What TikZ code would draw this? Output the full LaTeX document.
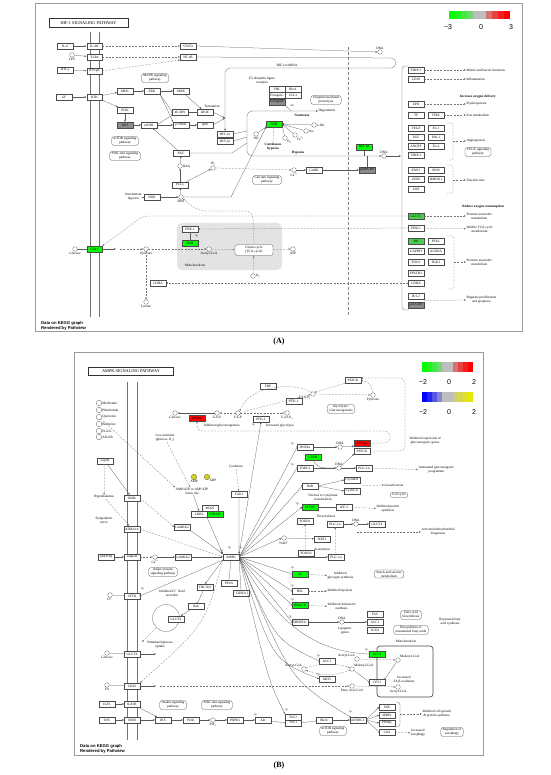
\documentclass[tikz,border=0pt]{standalone}
\usepackage{fontspec}
\setmainfont{Liberation Serif}
\setsansfont{Liberation Sans}
\usetikzlibrary{arrows.meta,calc}
\definecolor{kgreen}{HTML}{00FF00}
\definecolor{kmid}{HTML}{4CCF4C}
\definecolor{kred}{HTML}{FF0000}
\definecolor{kgray}{HTML}{BEBEBE}
\definecolor{kdark}{HTML}{8C8C8C}
\definecolor{kyel}{HTML}{E8E800}
\definecolor{kblue}{HTML}{0000FF}
\definecolor{kfrm}{HTML}{9A9A9A}
\newcommand\kf{\fontsize{3.4}{3.8}\selectfont}
\newcommand\kfb{\fontsize{3.4}{3.8}\selectfont\bfseries}

\begin{document}
\begin{tikzpicture}[x=1pt, y=-1pt,
  gene/.style={draw=black!70, line width=0.25pt, fill=white, font=\kf, inner sep=0pt, minimum width=15.5pt, minimum height=5.8pt},
  gdown/.style={gene, fill=kgreen},
  gmid/.style={gene, fill=kmid},
  gred/.style={gene, fill=kred},
  gdark/.style={gene, fill=kdark},
  cpd/.style={circle, draw=black!70, line width=0.25pt, fill=white, inner sep=0pt, minimum size=4.6pt},
  cpdy/.style={cpd, fill=kyel!80!gray, minimum size=5.5pt},
  pway/.style={draw=black!70, line width=0.25pt, rounded corners=2.5pt, fill=white, font=\kf, align=center, inner xsep=2pt, inner ysep=1pt},
  lbl/.style={font=\kf, align=center, inner sep=0.3pt},
  blbl/.style={font=\kfb, align=center, inner sep=0.3pt},
  ln/.style={draw=black!65, line width=0.25pt},
  act/.style={ln, -{Latex[length=2pt,width=1.6pt]}},
  bact/.style={ln, {Latex[length=2pt,width=1.6pt]}-{Latex[length=2pt,width=1.6pt]}},
  dact/.style={act, draw=black!55, dash pattern=on 2pt off 1.3pt},
  dln/.style={ln, draw=black!55, dash pattern=on 2pt off 1.3pt},
  inh/.style={ln, -{Bar[width=2.8pt]}},
  dinh/.style={inh, draw=black!55, dash pattern=on 2pt off 1.3pt},
  memb/.style={draw=black!55, line width=0.6pt},
  frm/.style={draw=kfrm, line width=0.8pt},
  tbox/.style={draw=black!80, line width=0.5pt, fill=white, font=\fontsize{4.3}{5}\selectfont, inner sep=0pt},
  keylbl/.style={font=\fontsize{7}{8}\selectfont\sffamily, inner sep=0pt},
  pnote/.style={font=\fontsize{3}{3.4}\selectfont, inner sep=0pt},
  credit/.style={font=\fontsize{4.2}{5}\selectfont\sffamily\bfseries, align=left, anchor=west, inner sep=0pt},
]
\fill[white] (0,0) rectangle (550,775);
\useasboundingbox (0,0) rectangle (550,775);

%% ================= (A) HIF-1 signalling =================
\draw[frm] (35,3) rectangle (522,331);
\node[tbox, minimum width=79pt, minimum height=8.5pt] (titA) at (88.5,23) {HIF-1 SIGNALING PATHWAY};
% colour key
\foreach \c [count=\i from 0] in {kgreen,kgreen!85!kgray,kgreen!65!kgray,kgreen!40!kgray,kgray,kgray,kred!40!kgray,kred!65!kgray,kred!85!kgray,kred}
  \fill[\c] ({449+\i*6.1},11) rectangle ({449+(\i+1)*6.1},19);
\node[keylbl] (kA1) at (448,27) {−3};
\node[keylbl] (kA2) at (481,27) {0};
\node[keylbl] (kA3) at (511,27) {3};
% membrane and nucleus
\draw[memb] (90,32) -- (90,317);
\draw[memb] (99,32) -- (99,317);
\draw[ln, draw=black!50, line width=0.5pt, dash pattern=on 3pt off 2pt] (348,47) -- (348,315);

% receptors
\node[gene] (il6) at (65,46) {IL-6};
\node[gene] (il6r) at (94.5,46) {IL-6R};
\node[cpd, label={[lbl]below:LPS}] (lps) at (72,55) {};
\node[gene] (tlr4) at (94.5,57) {TLR4};
\node[gene] (ifng) at (65,70) {IFN-γ};
\node[gene] (ifngr) at (94.5,71) {IFN-γR};
\node[gene] (gf) at (64,97) {GF};
\node[gene] (rtk) at (94.5,97) {RTK};
\node[gene] (stat3) at (188,46) {STAT3};
\node[gene] (nfkb) at (188,57) {NF-κB};
\draw[act] (il6) -- (il6r);
\draw[act] (lps) -- (tlr4);
\draw[act] (ifng) -- (ifngr);
\draw[act] (gf) -- (rtk);
\draw[dact] (il6r) -- (stat3);
\draw[dact] (tlr4) -- (nfkb);
\draw[dact] (ifngr.east) -- (nfkb.south west);

% growth factor cascade
\node[pway] (mapkp) at (155,78) {MAPK signaling\\pathway};
\node[gene] (mek) at (125,91) {MEK};
\node[gene] (erk) at (152,91) {ERK};
\node[gene] (mnk) at (181,91) {MNK};
\node[gene] (pi3k) at (125,110) {PI3K};
\node[gdark] (akt) at (125,125) {AKT};
\node[gene] (mtor) at (149,125) {mTOR};
\node[gene] (ebp) at (180,112) {4E-BP1};
\node[gene] (eif) at (205,112) {eIF4E};
\node[gene] (s6k) at (181,125) {p70S6K};
\node[gene] (rps6) at (205,125) {rpS6};
\node[lbl] (transl) at (212,106) {Translation};
\coordinate (trj) at (225,118);
\node[pway] (mtorp) at (125,141) {mTOR signaling\\pathway};
\node[pway] (pi3kp) at (125,156) {PI3K-Akt signaling\\pathway};
\draw[act] (rtk) -- (mek);
\draw[act] (rtk) -- (pi3k);
\draw[act] (mek) -- (erk);
\draw[act] (erk) -- (mnk);
\draw[act] (pi3k) -- (akt);
\draw[act] (akt) -- (mtor);
\draw[inh] (erk.south east) -- (ebp.west);
\draw[act] (erk.south east) -- (s6k.north west);
\draw[inh] (mtor.east) -- (ebp.south west);
\draw[act] (mtor) -- (s6k);
\draw[act] (mnk) -- (eif);
\draw[inh] (ebp) -- (eif);
\draw[act] (s6k) -- (rps6);
\draw[act] (eif.east) -- (trj);
\draw[act] (rps6.east) -- (trj);

% PKC, ROS
\node[gene] (pkc) at (181,153) {PKC};
\node[cpd, label={[lbl]right:DAG}] (dag) at (180,166) {};
\node[cpd, label={[lbl]above:IP\textsubscript{3}}] (ip3) at (213,168) {};
\node[gene] (plcg) at (180,185) {PLCγ};
\node[cpd, label={[lbl]below:ROS}] (ros) at (181,197) {};
\node[gene] (nox) at (152,197) {NOX};
\node[lbl, anchor=east] (ihyp) at (142,197) {Intermittent\\hypoxia};
\draw[act] (pkc) -- (mtor);
\draw[act] (dag) -- (pkc);
\draw[act] (plcg) -- (dag);
\draw[act] (plcg) -- (ip3);
\draw[act] (ros) -- (plcg);
\draw[act] (nox) -- (ros);
\draw[ln] (ihyp) -- (nox);

% HIF-1a mRNA loop
\node[gene] (hif1a) at (225,134) {HIF-1α};
\node[gene] (hif2a) at (225,141) {HIF-2α};
\node[cpd, label={[lbl]above:DNA}] (dnaA1) at (380,52) {};
\draw[act] (stat3.east) -- (dnaA1.west);
\draw[act, rounded corners=5pt] (nfkb.east) -- (396,58) -- (396,68) -- (225,68) -- (hif1a.north);
\node[lbl] (mrna) at (287,65) {HIF-1α mRNA};

% hypoxia / normoxia
\node[cpd, label={[lbl]above:DNA}] (dnaA2) at (384,156) {};
\node[lbl, anchor=west] (degr) at (318,111) {Degradation};
\draw[bact, rounded corners=5pt] (dnaA2.west) -- (247,156) -- (247,111) -- (degr.west);
\node[blbl] (normx) at (302,115.5) {Normoxia};
\node[blbl] (hypx) at (298,152.5) {Hypoxia};
\draw[ln] (hif1a.east) -- (247,131);
\draw[ln] (hif2a.east) -- (247,137);
\draw[ln] (pkc.east) -- (232,153) -- (247,143);
\node[gene] (vhl) at (277,89) {VHL};
\node[gene] (rbx) at (293,89) {Rbx1};
\node[gene] (eloc) at (277,95.5) {ElonginC};
\node[gene] (cul2) at (293,95.5) {CUL2};
\node[gdark] (elob) at (277,102) {ElonginB};
\node[lbl] (e3) at (262,81) {E3 ubiquitin ligase\\complex};
\node[pnote] (ubA) at (292,105) {ub};
\node[pway] (ubqp) at (326,100) {Ubiquitin mediated\\proteolysis};
\draw[ln] (elob.south east) -- (291,111);
\node[gdown] (phd) at (274,124) {PHD};
\node[cpd, label={[lbl]right:2-OG}] (og) at (314,125) {};
\node[cpd, label={[lbl]right:Asc}] (asc) at (306,131) {};
\node[cpd, label={[lbl]below right:Fe\textsuperscript{2+}}] (fe) at (295,135) {};
\node[cpd, label={[lbl]below right:O\textsubscript{2}}] (o2a) at (285,138) {};
\node[cpd, label={[lbl]below:NO}] (noA) at (256,134) {};
\foreach \c in {og,asc,fe,o2a} \draw[act] (\c) -- (phd.east);
\draw[inh] (noA) -- (phd.south west);
\node[blbl] (conth) at (273,147) {Continuous\\hypoxia};
\draw[dinh] (conth.north) -- (phd.south);
\draw[act] (ros.east) -- (231,197) -- (phd.south west);
\node[gdown] (hif1b) at (364,147) {HIF-1β};
\draw[ln] (hif1b.south) -- (364,156);
\node[gdark] (p300) at (367,170) {p300/CBP};
\draw[ln] (p300.north) -- (367,156);
\coordinate (rbr) at (401,156);
\draw[act] (dnaA2.east) -- (rbr);
\node[cpd, label={[lbl]below:Ca\textsuperscript{2+}}] (caA) at (294,170) {};
\node[gene] (camk) at (314,170) {CaMK};
\node[pway] (calp) at (267,180) {Calcium signaling\\pathway};
\draw[dact] (ip3.east) -- (caA.west);
\draw[act] (caA) -- (camk);
\draw[act] (camk) -- (p300);

% target genes
\draw[ln, rounded corners=3pt] (409,66) -- (402,66) -- (402,310) -- (409,310);
\foreach \n/\t/\x/\y in {timp1/TIMP-1/416/70, cd18/CD18/416/79, epo/EPO/416/104, tf/TF/416/115, tfrc/TFRC/436/115,
  vegf/VEGF/416/128, flt1/Flt-1/436/128, egf/EGF/416/137, pai1/PAI-1/436/137, angpt/ANGPT/416/146, tie2/Tie-2/436/146, timp1b/TIMP-1/416/155,
  edn1/EDN1/416/170, inos/iNOS/436/170, enos/eNOS/416/179, hmox/HMOX1/436/179, anp/ANP/416/189,
  pdk1r/PDK-1/416/228, pfkl/PFKL/436/241, gapdh/GAPDH/416/251, aldoa/ALDOA/436/251, eno1/ENO1/416/262, pgk1/PGK1/436/262,
  pfkfb/PFKFB3/416/273, ldhar/LDHA/416/283, bcl2/Bcl-2/416/296}
  \node[gene] (\n) at (\x,\y) {\t};
\node[gmid] (glut1r) at (416,216) {GLUT1};
\node[gmid] (hk) at (416,241) {HK};
\node[gdark] (p21) at (416,305) {p21/CIP1};
\node[lbl, anchor=west] (mbf) at (466,70) {Matrix and barrier functions};
\node[lbl, anchor=west] (infl) at (466,79) {Inflammation};
\node[blbl] (iod) at (478,97) {Increase oxygen delivery};
\node[lbl, anchor=west] (eryth) at (466,104) {Erythropoiesis};
\node[lbl, anchor=west] (ironm) at (466,115) {Iron metabolism};
\node[lbl, anchor=west] (angio) at (466,141) {Angiogenesis};
\node[pway] (vegfp) at (478,152) {VEGF signaling\\pathway};
\node[lbl, anchor=west] (vtone) at (466,180) {Vascular tone};
\node[blbl] (roc) at (483,207) {Reduce oxygen consumption};
\node[lbl, anchor=west] (pam1) at (466,216) {Promote anaerobic\\metabolism};
\node[lbl, anchor=west] (itca) at (466,229) {Inhibits TCA cycle\\metabolism};
\node[lbl, anchor=west] (pam2) at (466,262) {Promote anaerobic\\metabolism};
\node[lbl, anchor=west] (rpa) at (466,300) {Regulate proliferation\\and apoptosis};
\draw[dact] (timp1) -- (mbf);
\draw[dact] (cd18) -- (infl);
\draw[dact] (epo) -- (eryth);
\draw[dact] (tfrc) -- (ironm);
\draw[dact] (glut1r) -- (pam1);
\draw[dact] (pdk1r) -- (itca);
\draw[dact] ($(bcl2.east)!0.5!(p21.east)$) -- (rpa.west);
\draw[dln, rounded corners=2pt] (447,123) -- (453,123) -- (453,160) -- (447,160);
\draw[dact] (453,141) -- (angio.west);
\draw[dln, rounded corners=2pt] (447,165) -- (453,165) -- (453,193) -- (447,193);
\draw[dact] (453,180) -- (vtone.west);
\draw[dln, rounded corners=2pt] (447,236) -- (454,236) -- (454,289) -- (447,289);
\draw[dact] (454,262) -- (pam2.west);

% glucose metabolism
\fill[gray!22, rounded corners=5pt] (177,223) rectangle (282,270);
\node[lbl] (mitoA) at (195,265) {Mitochondrion};
\node[gene] (pdk1m) at (190,229) {PDK-1};
\node[gdown] (pdh) at (190,243) {PDH};
\draw[inh] (pdk1m) -- (pdh);
\node[pnote] (pA1) at (196,236) {+p};
\node[cpd, label={[lbl]below:Glucose}] (glcA) at (75,249) {};
\node[gdown] (glut1m) at (94.5,249) {Glut1};
\coordinate (gin) at (116,249);
\node[cpd, label={[lbl]below:Pyruvate}] (pyrA) at (146,249) {};
\node[cpd, label={[lbl]below:Acetyl-CoA}] (accA) at (209,249) {};
\node[pway, minimum width=38pt, minimum height=11pt] (tca) at (254,250) {Citrate cycle\\(TCA cycle)};
\node[cpd, label={[lbl]below:ATP}] (atp) at (293,249) {};
\node[cpd, label={[lbl]right:O\textsubscript{2}}] (o2b) at (253,276) {};
\node[cpd, label={[lbl]below:Lactate}] (lac) at (146,302) {};
\node[gene] (ldham) at (158,283) {LDHA};
\draw[ln] (glcA) -- (glut1m);
\draw[act] (glut1m) -- (gin);
\draw[dact] ([xshift=4pt]gin) -- (pyrA);
\draw[dact] (pyrA) -- (accA);
\draw[dact] (accA) -- (tca);
\draw[dact] (tca) -- (atp);
\draw[dact] (o2b) -- (tca);
\draw[dact] (pyrA) -- (lac);
\draw[dact, rounded corners=8pt] (tca.north) -- (253,211) -- (198,211) -- (ros.south east);
\draw[dact] (pdk1r.west) -- (pdk1m.east);
\draw[dact, rounded corners=6pt] (glut1r.west) -- (143,216) -- (glut1m.north east);
\draw[dact] (ldhar.west) -- (ldham.east);
\node[credit] (credA) at (41,325.5) {Data on KEGG graph\\Rendered by Pathview};
\node[font=\fontsize{8}{9}\selectfont\bfseries] (labA) at (279,342) {(A)};

%% ================= (B) AMPK signalling =================
\draw[frm] (74,352) rectangle (483,755);
\node[tbox, minimum width=85pt, minimum height=8.5pt] (titB) at (131,371) {AMPK SIGNALING PATHWAY};
\foreach \c [count=\i from 0] in {kgreen,kgreen!85!kgray,kgreen!65!kgray,kgreen!40!kgray,kgray,kgray,kred!40!kgray,kred!65!kgray,kred!85!kgray,kred}
  \fill[\c] ({422+\i*5.1},362) rectangle ({422+(\i+1)*5.1},372);
\foreach \c [count=\i from 0] in {kblue,kblue!80!kgray,kblue!55!kgray,kblue!30!kgray,kgray,kgray,kyel!35!kgray,kyel!60!kgray,kyel!80!kgray,kyel}
  \fill[\c] ({422+\i*5.1},392) rectangle ({422+(\i+1)*5.1},402);
\node[keylbl] (kB1) at (423,382) {−2};
\node[keylbl] (kB2) at (449,382) {0};
\node[keylbl] (kB3) at (474,382) {2};
\node[keylbl] (kB4) at (423,412) {−2};
\node[keylbl] (kB5) at (449,412) {0};
\node[keylbl] (kB6) at (474,412) {2};
\draw[memb] (127,382) -- (127,740);
\draw[memb] (137,382) -- (137,740);

% activators of AMPK
\foreach \d/\y in {Metformin/403, Phenformin/410, Quercetin/417, Berberine/424, EGCG/431, AICAR/437}
  \node[cpd, minimum size=5.5pt, label={[lbl]right:\d}] (d\d) at (99,\y) {};
\node[lbl] (lownut) at (165,438) {Low nutrients\\(glucose, O\textsubscript{2})};
\node[cpdy, label={[lbl]below:AMP}] (amp) at (194,477) {};
\node[cpdy, label={[lbl]below right:ADP}] (adp) at (207,477) {};
\node[lbl] (ratio) at (192,491) {AMP/ATP or ADP/ATP\\ratios rise};
\node[gene] (mo25) at (210,508) {MO25};
\node[gene] (lkb1) at (199,514) {LKB1};
\node[gdown] (strad) at (215,514) {STRAD};
\node[gene, minimum width=16pt] (ampk) at (231,557) {AMPK};
\node[lbl] (cytok) at (236,467) {Cytokines};
\node[gene] (tak1) at (239,494) {TAK1};
\node[gene] (lep) at (105,461) {Leptin};
\node[lbl] (hypoth) at (104,497) {Hypothalamus};
\node[gene] (obrb) at (132,498) {ObRb};
\node[lbl] (symp) at (104,520) {Sympathetic\\nerve};
\node[gene] (adra) at (132,529) {ADRA1A};
\node[gene] (camkka) at (182,527) {CaMKK2};
\node[gene] (adipoq) at (106,557) {ADIPOQ};
\node[gene] (adipor) at (132,557) {AdipoR};
\node[cpd, label={[lbl]below:Ca\textsuperscript{2+}}] (caB) at (155,557) {};
\node[gene] (camkkb) at (183,557) {CaMKK2};
\node[pway] (adipp) at (163,572) {Adipocytokine\\signaling pathway};
\draw[dact] (dQuercetin) -- (ratio.north west);
\draw[dact] (lownut) -- (ratio);
\draw[act] (ratio) -- (lkb1.north);
\draw[act] (lkb1.south east) -- (ampk.north west);
\draw[dact] (cytok) -- (tak1);
\draw[act] (tak1) -- (ampk.north east);
\draw[act] (lep) -- (obrb);
\draw[dact] (lep) -- (hypoth);
\draw[dact] (hypoth) -- (adra);
\draw[dact] (obrb.east) -- (camkka.west);
\draw[act] (camkka.south east) -- (ampk.north west);
\draw[dact] (adra.east) -- (ampk.west);
\draw[act] (adipoq) -- (adipor);
\draw[dact] (adipor) -- (caB);
\draw[act] (caB) -- (camkkb);
\draw[act] (camkkb) -- (ampk);
\node[pnote] (pB1) at (221,551) {+p};
\node[pnote] (pB2) at (229,548) {+p};
\node[pnote] (pB3) at (240,548) {+p};

% glucose and lipid uptake
\node[cpd, label={[lbl]below:Cl\textsuperscript{−}}] (cl) at (110,595) {};
\node[gene] (cftr) at (132,596) {CFTR};
\node[lbl] (clsec) at (172,593) {Inhibited Cl\textsuperscript{−} fluid\\secretion};
\node[gene] (tbc) at (205,587) {TBC1D1};
\node[gene] (pp2a) at (229,583) {PP2A};
\node[gene] (cidea) at (241,593) {CIDEA};
\node[gene] (rab) at (196,606) {Rab};
\draw[ln] (166,618) circle (13.5);
\node[gene] (glut4v) at (176,619) {GLUT4};
\node[lbl] (sgu) at (160,645) {Stimulated glucose\\uptake};
\coordinate (sgu2) at (142,642);
\node[cpd, label={[lbl]below:Glucose}] (glcB) at (107,653) {};
\node[gene] (glut4m) at (132,654) {GLUT4};
\coordinate (gin2) at (156,654);
\node[cpd, label={[lbl]below:FA}] (fa) at (107,685) {};
\node[gene] (cd36) at (132,686) {CD36};
\coordinate (fin) at (156,686);
\draw[ln] (cl) -- (cftr);
\draw[inh] (ampk.south west) -- (cftr.east);
\node[pnote] (pB4) at (142,589) {+p};
\draw[act] (ampk.south west) -- (tbc.north);
\draw[inh] (pp2a.north) -- (ampk.south);
\draw[ln] (cidea.north) -- (ampk.south east);
\draw[inh] (tbc) -- (rab);
\draw[act] (rab) -- (glut4v);
\draw[dact] (156,628) -- (sgu2);
\draw[dact] (ampk.south west) .. controls (205,625) .. (cd36.north east);
\draw[ln] (glcB) -- (glut4m);
\draw[act] (glut4m) -- (gin2);
\draw[ln] (fa) -- (cd36);
\draw[act] (cd36) -- (fin);

% insulin / mTOR
\node[gene] (igf1) at (107,704) {IGF1};
\node[gene] (igf1r) at (132,704) {IGF1R};
\node[gene] (ins) at (107,720) {INS};
\node[gene] (insr) at (132,720) {INSR};
\node[gene] (irs) at (163,720) {IRS};
\node[gene] (pi3kb) at (191,720) {PI3K};
\node[cpd, label={[lbl]below:PIP\textsubscript{3}}] (pip3) at (213,720) {};
\node[gene] (pdpk1) at (235,720) {PDPK1};
\node[gene] (aktb) at (263,720) {Akt};
\node[pway] (insp) at (173,705) {Insulin signaling\\pathway};
\node[pway] (pakp) at (217,705) {PI3K-Akt signaling\\pathway};
\node[gene] (tsc2) at (293,717) {TSC2};
\node[gene] (tsc1) at (293,722.8) {TSC1};
\node[gene] (rheb) at (324,720) {Rheb};
\node[gene] (mtorc1) at (358,720) {mTORC1};
\node[gene] (s6k1) at (387,707) {S6K};
\node[gene] (ebp1) at (387,715) {4EBP1};
\node[gene] (ppar) at (387,723) {PPARγ};
\node[gene] (ulk1) at (387,732) {Ulk1};
\node[pway] (mtorpb) at (333,731) {mTOR signaling\\pathway};
\node[lbl, anchor=west] (icg) at (422,714) {Inhibited cell growth\\\& protein synthesis};
\node[lbl] (incaut) at (418,733) {Increased\\autophagy};
\node[pway] (regaut) at (452,732) {Regulation of\\autophagy};
\draw[act] (igf1) -- (igf1r);
\draw[act] (ins) -- (insr);
\draw[act] (igf1r) -- (irs);
\draw[act] (insr) -- (irs);
\draw[act] (irs) -- (pi3kb);
\draw[act] (pi3kb) -- (pip3);
\draw[act] (pip3) -- (pdpk1);
\draw[act] (pdpk1) -- (aktb);
\node[pnote] (pB5) at (255,715) {+p};
\draw[inh] (aktb) -- (tsc1.west);
\draw[inh] (tsc1.east) -- (rheb);
\draw[act] (rheb) -- (mtorc1);
\foreach \t in {s6k1,ebp1,ppar} \draw[act] (mtorc1.east) -- (\t.west);
\draw[inh] (mtorc1.east) -- (ulk1.west);
\draw[ln, rounded corners=3pt] (396,702) -- (400,702) -- (400,727) -- (396,727);
\draw[dact] (400,714) -- (icg.west);
\draw[dact] (ulk1) -- (incaut);
\draw[act] (ampk.east) .. controls (268,680) .. (tsc2.north west);
\draw[inh] (ampk.east) .. controls (290,680) .. (mtorc1.north west);
\node[pnote] (pB6) at (286,710) {+p};
\node[pnote] (pB7) at (350,712) {+p};

% glycolysis / gluconeogenesis
\node[cpd, label={[lbl]below:Glucose}] (glcC) at (175,413) {};
\node[gred] (g6pa) at (197,418) {G6Pase};
\node[cpd, label={[lbl]below:G-6-P}] (g6p) at (217,413) {};
\node[cpd, label={[lbl]below:F-6-P}] (f6p) at (238,413) {};
\node[gene] (pfk2) at (261,419) {PFK-2};
\node[cpd, label={[lbl]below:{F-2,6-P\textsubscript{2}}}] (f26) at (287,413) {};
\node[gene] (pfk1) at (294,401) {PFK-1};
\node[cpd, label={[lbl]below left:{F-1,6-P\textsubscript{2}}}] (f16) at (313,394) {};
\node[gene] (fbp) at (268,386) {FBP};
\node[gene] (pepcka) at (353,380) {PEPCK};
\node[cpd, label={[lbl]below:Pyruvate}] (pyrB) at (373,395) {};
\node[pway] (glyp) at (341,409) {Glycolysis /\\Gluconeogenesis};
\node[lbl] (ingl) at (222,426) {Inhibited gluconeogenesis};
\node[lbl] (incgl) at (280,426) {Increased glycolysis};
\node[pnote] (pB8) at (253,425) {+p};
\draw[act] (g6p) -- (glcC);
\draw[dact] (f6p) -- (g6p);
\draw[dact] (f6p) -- (f26);
\draw[dact] (f6p) -- (f16);
\draw[dact] (f16.north west) .. controls (300,383) and (250,383) .. (f6p.north east);
\draw[dact] (f16) -- (pyrB);
\draw[dact] (pyrB.north) .. controls (370,383) .. (pepcka.east);
\draw[dact] (pepcka.south west) -- (f16.north east);

% nucleus: transcription
\node[gene] (hnf4a) at (305,447) {HNF4α};
\node[cpd, label={[lbl]above:DNA}] (dna1) at (340,447) {};
\node[gred] (g6pb) at (362,443) {G6Pase};
\node[gene] (pepckb) at (362,451) {PEPCK};
\node[lbl, anchor=west] (igg) at (409,441) {Inhibited expression of\\gluconeogenic genes};
\node[gdown] (creb) at (313,457) {CREB};
\node[gene] (torc2) at (305,468) {TORC2};
\node[cpd, label={[lbl]above:DNA}] (dna2) at (339,468) {};
\node[gene] (pgc1a) at (364,468) {PGC-1α};
\node[lbl, anchor=west] (attn) at (418,470) {Attenuated gluconeogenic\\programme};
\draw[act] (hnf4a) -- (dna1);
\draw[act] (dna1) -- (g6pb.south west);
\draw[ln] (creb.south) .. controls (318,468) .. (dna2.west);
\draw[act] (torc2) -- (dna2);
\draw[act] (dna2) -- (pgc1a);
\draw[act] (dna2) -- (pepckb.south west);
\draw[dact] (pgc1a) -- (attn);
\draw[dact, rounded corners=5pt] (g6pb.east) -- (390,443) -- (390,431) -- (197,431) -- (g6pa.south);
\draw[dact, rounded corners=5pt] (pepckb.east) -- (405,451) -- (405,378) -- (pepcka.east |- 0,378);
\node[pnote] (pB9) at (292,444) {+p};
\node[pnote] (pB10) at (292,465) {+p};

\node[gene] (hur) at (310,486) {HuR};
\node[gene] (cycd1) at (352,480) {CyclinD1};
\node[gene] (cyca) at (352,491) {Cyclin A};
\node[lbl, anchor=west] (garr) at (384,485) {Growth arrest};
\node[pway] (ccyc) at (399,495) {Cell cycle};
\node[lbl] (ntrans) at (323,497) {Nuclear to cytoplasm\\translocation};
\draw[act] (hur.east) -- (cycd1.west);
\draw[act] (hur.east) -- (cyca.west);
\draw[dact] ($(cycd1.east)!0.5!(cyca.east)+(3,0)$) -- (garr.west);

\node[gdown] (eef2k) at (310,507) {eEF2K};
\node[gene] (eef2) at (344,507) {eEF-2};
\node[lbl, anchor=west] (ips) at (376,509) {Inhibited protein\\synthesis};
\draw[inh] (eef2k) -- (eef2);
\draw[dact] (eef2) -- (ips);
\node[pnote] (pB11) at (297,504) {+p};

\node[lbl] (deac) at (326,517) {Deacetylated};
\node[gene] (foxo1) at (305,521) {FOXO1};
\node[gene] (pgc1b) at (335,524) {PGC-1α};
\node[cpd, label={[lbl]above:DNA}] (dna3) at (356,524) {};
\node[gene] (glut4b) at (377,524) {GLUT4};
\node[lbl, anchor=west] (amb) at (421,532) {Activated mitochondrial\\biogenesis};
\node[cpd, label={[lbl]below:NAD\textsuperscript{+}}] (nad) at (284,538) {};
\node[gene] (sirt1) at (322,539) {SIRT1};
\node[gene] (foxo3) at (306,553) {FOXO3};
\node[lbl] (acet) at (322,550) {Acetylation};
\node[gene] (pgc1c) at (336,557) {PGC-1α};
\draw[act] (pgc1b) -- (dna3);
\draw[act] (dna3) -- (glut4b);
\draw[dact] (357,532) -- (amb.west);
\draw[act] (nad) -- (sirt1);
\draw[dact] (foxo3) -- (foxo1);
\draw[dact] (pgc1c) -- (pgc1b);

% lipid metabolism targets
\node[gdown] (gs) at (300,574) {GS};
\node[lbl, anchor=west] (igs) at (327,576) {Inhibited\\glycogen synthesis};
\node[pway] (starch) at (389,574) {Starch and sucrose\\metabolism};
\node[gene] (hsl) at (300,591) {HSL};
\node[lbl, anchor=west] (ilip) at (327,591) {Inhibited lipolysis};
\node[gdown] (hmgcr) at (300,605) {HMGCR};
\node[lbl, anchor=west] (ichol) at (327,607) {Inhibited cholesterol\\synthesis};
\node[gene] (srebp) at (300,622) {SREBP1c};
\node[cpd, label={[lbl]above:DNA}] (dna4) at (342,622) {};
\node[lbl] (lipog) at (345,631) {Lipogenic\\genes};
\node[gene] (fas) at (375,614) {FAS};
\node[gene] (acc1a) at (375,622) {ACC1};
\node[gene] (scd1) at (375,630) {SCD1};
\node[pway] (fabio) at (411,615) {Fatty acid\\biosynthesis};
\node[pway] (unsat) at (411,630) {Biosynthesis of\\unsaturated fatty acids};
\node[lbl] (rfas) at (450,622) {Repressed fatty\\acid synthesis};
\draw[dact] (gs) -- (igs);
\draw[dact] (hsl) -- (ilip);
\draw[dact] (hmgcr) -- (ichol);
\draw[act] (srebp) -- (dna4);
\draw[act] (dna4) -- (acc1a);
\draw[rounded corners=3pt, draw=black!70, line width=0.7pt] (377,646) rectangle (433,697);
\node[lbl] (mitoB) at (406,641) {Mitochondrion};
\node[gdown] (acc2) at (377,654) {ACC2};
\node[cpd, label={[lbl]above left:Acetyl-CoA}] (accoa1) at (357,659) {};
\node[cpd, label={[lbl]above right:Malonyl-CoA}] (malcoa1) at (398,660) {};
\node[gene] (acc1b) at (327,661) {ACC1};
\node[cpd, label={[lbl]above left:Acetyl-CoA}] (accoa2) at (304,669) {};
\node[cpd, label={[lbl]above right:Malonyl-CoA}] (malcoa2) at (352,669) {};
\node[gene] (mcd) at (327,679) {MCD};
\node[gene] (cpt1) at (377,682) {CPT1};
\node[lbl] (fabox) at (404,680) {Increased\\FA β-oxidation};
\node[cpd, label={[lbl]below:Acetyl-CoA}] (accoa3) at (398,687) {};
\node[cpd, label={[lbl]below:Fatty Acyl-CoA}] (facoa) at (352,686) {};
\draw[dact] (accoa1) -- (malcoa1);
\draw[inh] (malcoa1) -- (cpt1.north east);
\draw[dact] ([xshift=4pt]fin) -- (facoa);
\draw[dact] (facoa) -- (accoa3);
\draw[dact] (accoa2) .. controls (318,663) and (338,663) .. (malcoa2);
\draw[dact] (malcoa2) .. controls (338,676) and (318,676) .. (accoa2);
\draw[inh] (malcoa2) -- (cpt1.west);

% AMPK targets
\draw[act] (ampk.north east) -- (pfk2.south);
\foreach \t in {hnf4a,torc2,hur,gs,hsl,hmgcr,srebp}
  \draw[inh] (ampk.east) -- (\t.west);
\foreach \t in {eef2k,pgc1c,nad}
  \draw[act] (ampk.east) -- (\t.west);
\draw[inh] (ampk.east) .. controls (275,640) .. (acc1b.west);
\draw[act] (ampk.east) .. controls (272,660) .. (mcd.west);
\draw[inh] (ampk.east) .. controls (280,630) and (320,652) .. (acc2.west);
\foreach \x/\y in {292/568, 292/586, 292/600, 290/617, 318/656, 318/675, 366/650}
  \node[pnote] at (\x,\y) {+p};
\node[credit] (credB) at (80,748.5) {Data on KEGG graph\\Rendered by Pathview};
\node[font=\fontsize{8}{9}\selectfont\bfseries] (labB) at (279,766) {(B)};
\end{tikzpicture}
\end{document}
